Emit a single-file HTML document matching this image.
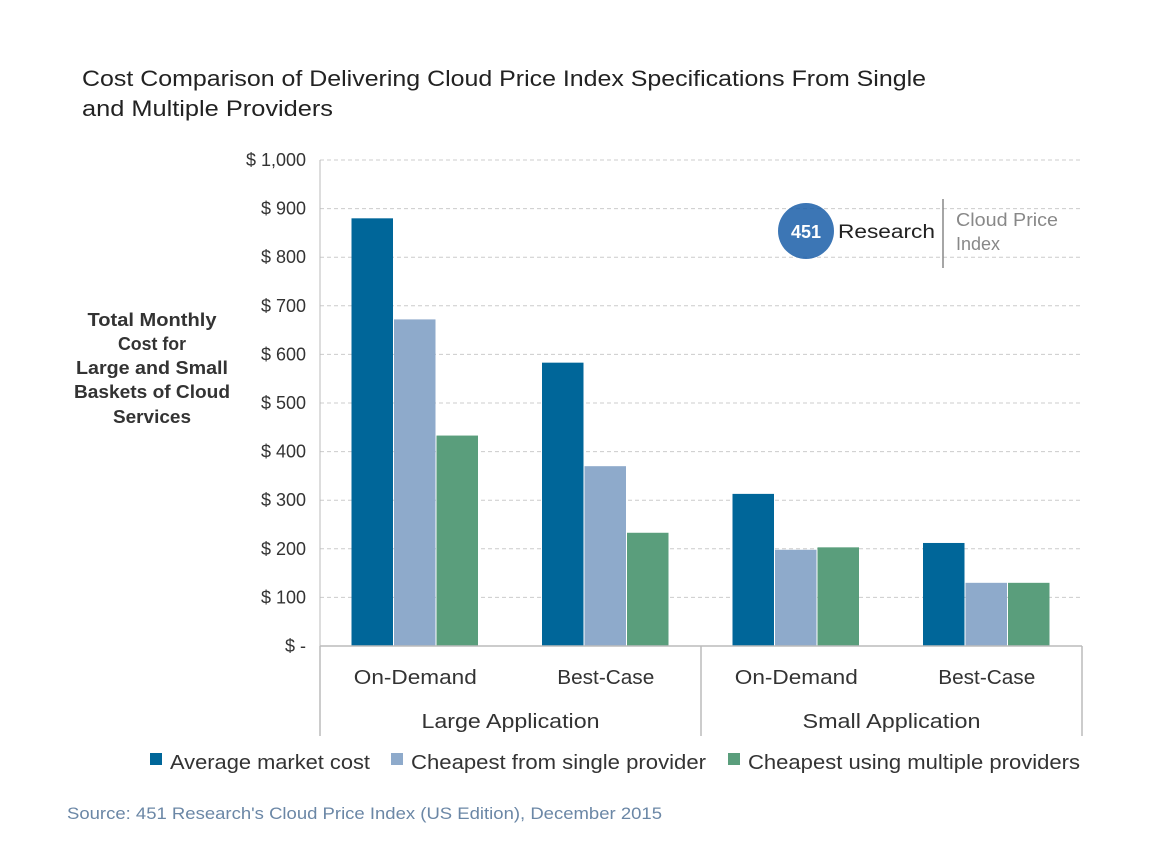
<!DOCTYPE html>
<html><head><meta charset="utf-8"><style>
body{margin:0;background:#fff;}
svg{display:block;font-family:"Liberation Sans",sans-serif;}
</style></head><body>
<svg id="chart" width="1152" height="854" viewBox="0 0 1152 854">
<text x="82" y="86" font-size="22" fill="#222" textLength="844" lengthAdjust="spacingAndGlyphs">Cost Comparison of Delivering Cloud Price Index Specifications From Single</text>
<text x="82" y="116" font-size="22" fill="#222" textLength="251" lengthAdjust="spacingAndGlyphs">and Multiple Providers</text>
<g font-weight="bold" font-size="18" fill="#333" text-anchor="middle">
<text x="152" y="326" textLength="129" lengthAdjust="spacingAndGlyphs">Total Monthly</text><text x="152" y="350" textLength="68" lengthAdjust="spacingAndGlyphs">Cost for</text><text x="152" y="374" textLength="152" lengthAdjust="spacingAndGlyphs">Large and Small</text><text x="152" y="398" textLength="156" lengthAdjust="spacingAndGlyphs">Baskets of Cloud</text><text x="152" y="423" textLength="78" lengthAdjust="spacingAndGlyphs">Services</text>
</g>
<g id="grid"></g><g id="bars"></g>
<g>
<circle cx="806" cy="231" r="28" fill="#1a5ea8" opacity="0.85"/>
<text x="806" y="238" font-size="18" font-weight="bold" fill="#fff" text-anchor="middle">451</text>
<text x="838" y="238" font-size="19" fill="#222" textLength="97" lengthAdjust="spacingAndGlyphs">Research</text>
<line x1="943" y1="199" x2="943" y2="268" stroke="#888" stroke-width="1.5"/>
<text x="956" y="226" font-size="18" fill="#888" textLength="102" lengthAdjust="spacingAndGlyphs">Cloud Price</text>
<text x="956" y="250" font-size="18" fill="#888">Index</text>
</g>
<g font-size="20" fill="#333">
<rect x="150" y="753" width="12" height="12" fill="#006699"/><text x="170" y="769" textLength="200" lengthAdjust="spacingAndGlyphs">Average market cost</text>
<rect x="391" y="753" width="12" height="12" fill="#8eaacb"/><text x="411" y="769" textLength="295" lengthAdjust="spacingAndGlyphs">Cheapest from single provider</text>
<rect x="728" y="753" width="12" height="12" fill="#5a9e7c"/><text x="748" y="769" textLength="332" lengthAdjust="spacingAndGlyphs">Cheapest using multiple providers</text>
</g>
<text x="67" y="819" font-size="17" fill="#6b87a6" textLength="595" lengthAdjust="spacingAndGlyphs">Source: 451 Research's Cloud Price Index (US Edition), December 2015</text>
</svg>
<script>
const categories=["On-Demand","Best-Case","On-Demand","Best-Case"];
const groups=["Large Application","Small Application"];
const avgMarket=[880,583,313,212];
const singleProvider=[672,370,198,130];
const multiProvider=[433,233,203,130];
const yTicks=[0,100,200,300,400,500,600,700,800,900,1000];
const yTickLabels=["$ -","$ 100","$ 200","$ 300","$ 400","$ 500","$ 600","$ 700","$ 800","$ 900","$ 1,000"];
const NS="http://www.w3.org/2000/svg";
const L=320,R=1082,T=160,B=646;
const y=v=>B-(v/1000)*(B-T);
const gw=(R-L)/categories.length;
const x=i=>L+gw*i;
function mk(tag,attrs,parent,txt){const e=document.createElementNS(NS,tag);for(const k in attrs)e.setAttribute(k,attrs[k]);if(txt!==undefined)e.textContent=txt;parent.appendChild(e);return e;}
const grid=document.getElementById('grid'),bars=document.getElementById('bars');
yTicks.forEach((t,i)=>{
 if(t>0){const g=mk('line',{x1:L,x2:R,y1:y(t),y2:y(t),stroke:'#ccc','stroke-dasharray':'4 3'},grid);
 
 }
 const lb=mk('text',{x:306,y:y(t)+6,'font-size':18,fill:'#333','text-anchor':'end'},grid,yTickLabels[i]);
 
 
});
const ax=mk('line',{x1:L,x2:L,y1:T,y2:B,stroke:'#bbb'},grid);


const series=[[avgMarket,'#006699'],[singleProvider,'#8eaacb'],[multiProvider,'#5a9e7c']];
const bw=42.5;
categories.forEach((c,i)=>{
 const start=x(i)+gw/2-bw*1.5;
 series.forEach(([arr,col],s)=>{
  const r=mk('rect',{x:start+s*bw,y:y(arr[i]),width:bw-1,height:B-y(arr[i]),fill:col},bars);
  
  
 });
 const t=mk('text',{x:x(i)+gw/2,y:684,'font-size':20,fill:'#333','text-anchor':'middle',textLength:c==='On-Demand'?123:97,lengthAdjust:'spacingAndGlyphs'},bars,c);
 
 
});
const base=mk('line',{x1:L,x2:R,y1:B,y2:B,stroke:'#bbb','stroke-width':1.5},bars);


[0,2,4].forEach(i=>{const s=mk('line',{x1:x(i),x2:x(i),y1:B,y2:736,stroke:'#bbb','stroke-width':1.5},bars);
 
 });
groups.forEach((g,j)=>{const t=mk('text',{x:x(j*2+1),y:728,'font-size':20,fill:'#333','text-anchor':'middle',textLength:178,lengthAdjust:'spacingAndGlyphs'},bars,g);
 
 });
</script>
</body></html>
